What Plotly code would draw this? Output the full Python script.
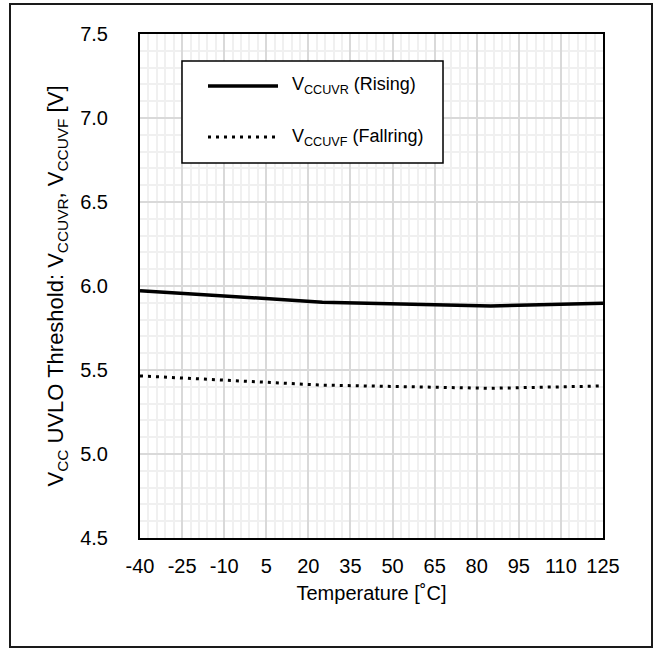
import plotly.graph_objects as go

# ---- data ----
temperature = [-40, 25, 85, 125]
vccuvr_rising = [5.972, 5.904, 5.881, 5.897]
vccuvf_falling = [5.465, 5.41, 5.391, 5.405]
x_ticks = [-40, -25, -10, 5, 20, 35, 50, 65, 80, 95, 110, 125]
y_ticks = [4.5, 5.0, 5.5, 6.0, 6.5, 7.0, 7.5]
legend_labels = ["V<sub>CCUVR</sub> (Rising)", "V<sub>CCUVF</sub> (Fallring)"]

W, H = 662, 649
L, R, T, B = 140, 603, 34, 538  # plot area in px
PW, PH = R - L, B - T

def px(x):
    return (x - L) / PW

def py(y):
    return (B - y) / PH

FONT = "Liberation Sans, Arial, sans-serif"

fig = go.Figure()
fig.add_trace(go.Scatter(x=temperature, y=vccuvr_rising, mode="lines",
                         line=dict(color="black", width=3.5), showlegend=False))
fig.add_trace(go.Scatter(x=temperature, y=vccuvf_falling, mode="lines",
                         line=dict(color="black", width=3, dash="3px,5px"), showlegend=False))

fig.update_layout(
    width=W, height=H,
    margin=dict(l=L, r=W - R, t=T, b=H - B),
    paper_bgcolor="white", plot_bgcolor="white",
    font=dict(family=FONT, color="black", size=20),
    showlegend=False,
)
fig.update_xaxes(
    range=[-40, 125], tickvals=x_ticks, ticktext=[str(v) for v in x_ticks],
    showgrid=True, gridcolor="#d9d9d9", gridwidth=2,
    minor=dict(dtick=3, tick0=-40, showgrid=True, gridcolor="#f0f0f0", gridwidth=2),
    showline=True, linecolor="black", linewidth=2, mirror=True,
    ticks="", tickfont=dict(size=20), ticklabelstandoff=9,
    title=dict(text="Temperature [˚C]", font=dict(size=20), standoff=10),
    zeroline=False,
)
fig.update_yaxes(
    range=[4.5, 7.5], tickvals=y_ticks, ticktext=[f"{v:.1f}" for v in y_ticks],
    showgrid=True, gridcolor="#d9d9d9", gridwidth=2,
    minor=dict(dtick=0.1, tick0=4.5, showgrid=True, gridcolor="#f0f0f0", gridwidth=2),
    showline=True, linecolor="black", linewidth=2, mirror=True,
    ticks="", tickfont=dict(size=20), ticklabelstandoff=26,
    title=dict(text="V<sub>CC</sub> UVLO Threshold: V<sub>CCUVR</sub>, V<sub>CCUVF</sub> [V]",
               font=dict(size=22), standoff=10),
    zeroline=False,
)

shapes = []
# outer border
shapes.append(dict(type="rect", xref="paper", yref="paper",
                   x0=px(10), x1=px(652), y0=py(647), y1=py(4),
                   line=dict(color="#1a1a1a", width=2), fillcolor="rgba(0,0,0,0)", layer="above"))
# legend box
shapes.append(dict(type="rect", xref="paper", yref="paper",
                   x0=px(182), x1=px(443), y0=py(163), y1=py(61),
                   line=dict(color="black", width=1.5), fillcolor="white", layer="above"))
shapes.append(dict(type="line", xref="paper", yref="paper",
                   x0=px(208), x1=px(278), y0=py(86), y1=py(86),
                   line=dict(color="black", width=3.5), layer="above"))
shapes.append(dict(type="line", xref="paper", yref="paper",
                   x0=px(208), x1=px(278), y0=py(137), y1=py(137),
                   line=dict(color="black", width=3, dash="3px,5px"), layer="above"))
fig.update_layout(shapes=shapes)

for lbl, yy in zip(legend_labels, [86, 137]):
    fig.add_annotation(xref="paper", yref="paper", x=px(290), y=py(yy),
                       xanchor="left", yanchor="middle", text=lbl, showarrow=False,
                       font=dict(size=18, family=FONT, color="black"))

fig.write_html("out.html", config={"displayModeBar": False},
               post_script="document.body.style.margin='0px';")
